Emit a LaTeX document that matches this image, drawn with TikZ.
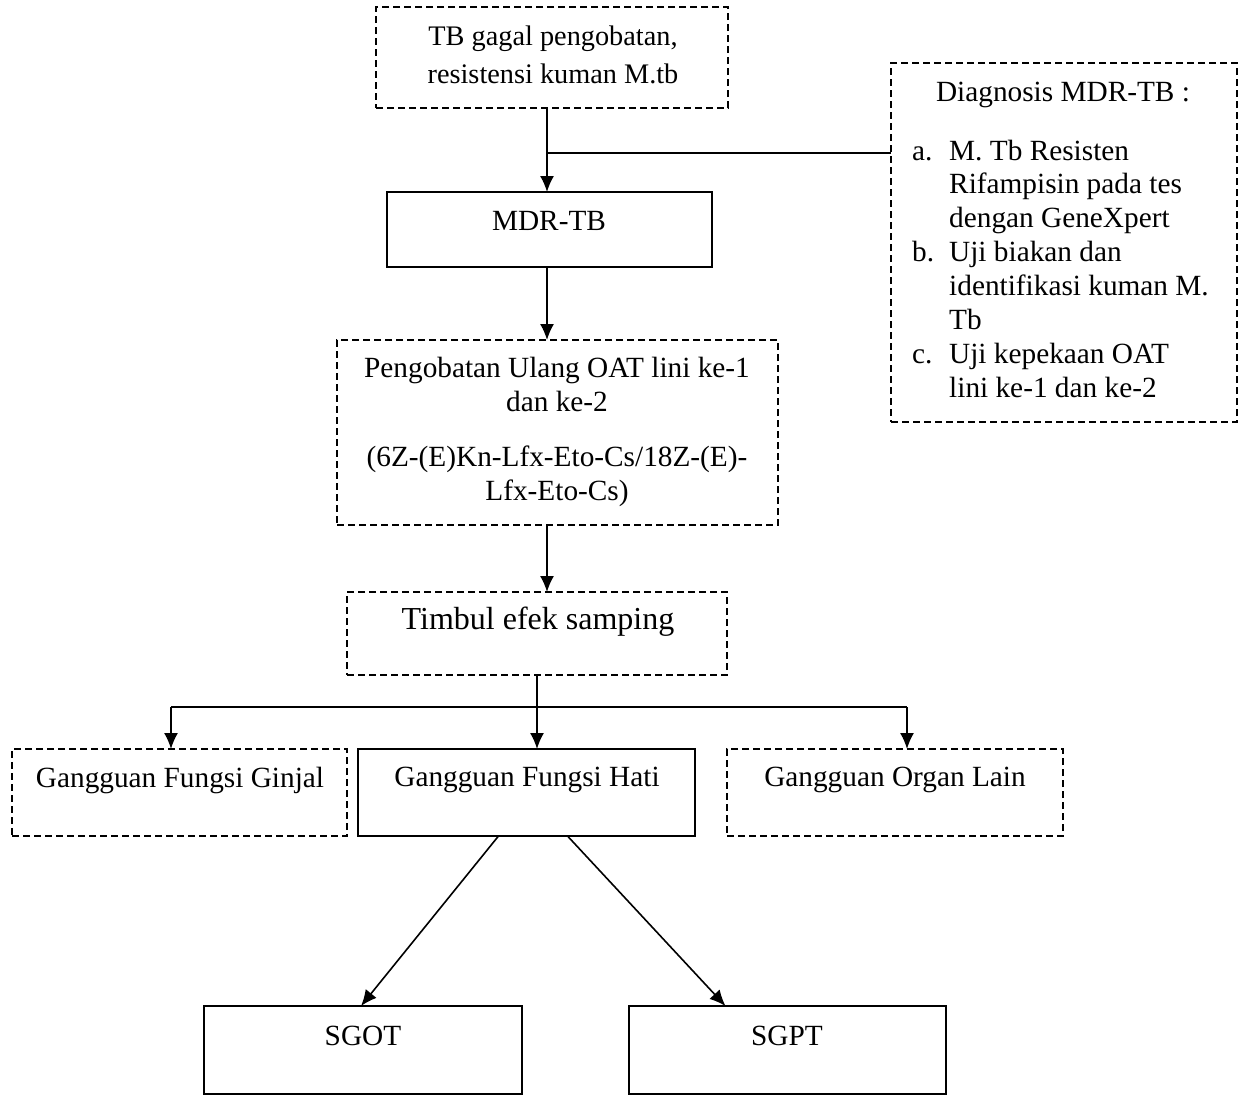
\documentclass[tikz,border=0pt]{standalone}
\usepackage{fontspec}
\setmainfont{Liberation Serif}
\usetikzlibrary{arrows.meta,calc}
\begin{document}
\begin{tikzpicture}[x=1pt,y=-1pt,
  box/.style={draw, line width=1.4pt, inner sep=0pt, outer sep=0pt, anchor=north west},
  dbox/.style={box, dash pattern=on 7pt off 4pt},
  txt/.style={font=\fontsize{29.3}{34}\selectfont, align=center, inner sep=0pt},
  arr/.style={line width=1.6pt, -{Latex[length=16pt,width=14pt]}},
  ln/.style={line width=1.6pt}]
\useasboundingbox (0,0) rectangle (1244,1095);

% boxes
\node[dbox, minimum width=352pt, minimum height=101pt] (top) at (376,7) {};
\node[box,  minimum width=325pt, minimum height=75pt]  (mdr) at (387,192) {};
\node[dbox, minimum width=346pt, minimum height=359pt] (diag) at (891,63) {};
\node[dbox, minimum width=441pt, minimum height=185pt] (obat) at (337,340) {};
\node[dbox, minimum width=380pt, minimum height=83pt]  (timbul) at (347,592) {};
\node[dbox, minimum width=335pt, minimum height=87pt]  (ginjal) at (12,749) {};
\node[box,  minimum width=337pt, minimum height=87pt]  (hati) at (358,749) {};
\node[dbox, minimum width=336pt, minimum height=87pt]  (lain) at (727,749) {};
\node[box,  minimum width=318pt, minimum height=88pt]  (sgot) at (204,1006) {};
\node[box,  minimum width=317pt, minimum height=88pt]  (sgpt) at (629,1006) {};

% texts
\node[txt, font=\fontsize{28.3}{38}\selectfont] (toptxt) at (553,55) {TB gagal pengobatan,\\resistensi kuman M.tb};
\node[txt] (mdrtxt) at (549,221) {MDR-TB};
\node[txt] (diagtxt) at (1063,95) {Diagnosis MDR-TB :};
\node[font=\fontsize{29.3}{33.9}\selectfont, inner sep=0pt, anchor=base west] (diaglist) at (912,160)
  {\begin{tabular}[t]{@{}p{37pt}@{}l@{}}
   a. & M. Tb Resisten\\
      & Rifampisin pada tes\\
      & dengan GeneXpert\\
   b. & Uji biakan dan\\
      & identifikasi kuman M.\\
      & Tb\\
   c. & Uji kepekaan OAT\\
      & lini ke-1 dan ke-2
   \end{tabular}};
\node[txt] (obattxt) at (557,432) {Pengobatan Ulang OAT lini ke-1\\dan ke-2\\[21pt](6Z-(E)Kn-Lfx-Eto-Cs/18Z-(E)-\\Lfx-Eto-Cs)};
\node[txt, font=\fontsize{32}{38}\selectfont] (timbultxt) at (538,622) {Timbul efek samping};
\node[txt] (ginjaltxt) at (180,780) {Gangguan Fungsi Ginjal};
\node[txt] (hatitxt) at (527,780) {Gangguan Fungsi Hati};
\node[txt] (laintxt) at (895,780) {Gangguan Organ Lain};
\node[txt] (sgottxt) at (363,1036) {SGOT};
\node[txt] (sgpttxt) at (787,1036) {SGPT};

% connectors
\coordinate (c1) at (547,0);
\coordinate (j1) at (547,153);
\draw[arr] (top.south -| c1) -- (mdr.north -| c1);
\draw[ln] (j1) -- (j1 -| diag.west);
\draw[arr] (mdr.south -| c1) -- (obat.north -| c1);
\draw[arr] (obat.south -| c1) -- (timbul.north -| c1);
\draw[arr] (timbul.south) -- (timbul.south |- hati.north);
\coordinate (bl) at (171,707);
\coordinate (br) at (907,707);
\draw[ln] (bl) -- (br);
\draw[arr] (bl) -- (bl |- ginjal.north);
\draw[arr] (br) -- (br |- lain.north);
\draw[arr] ($(hati.south)+(-28,0)$) -- ($(sgot.north)+(-2,0)$);
\draw[arr] ($(hati.south)+(41,0)$) -- ($(sgpt.north)+(-62,0)$);
\end{tikzpicture}
\end{document}
